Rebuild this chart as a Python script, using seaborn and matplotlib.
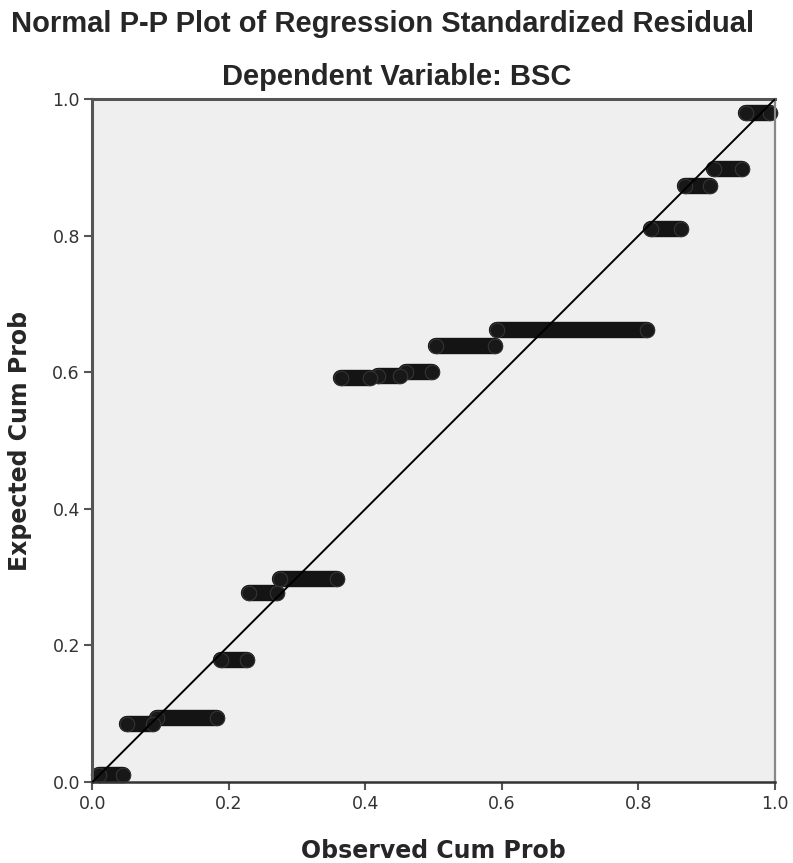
import numpy as np
import pandas as pd
import matplotlib
matplotlib.use('Agg')
import matplotlib.pyplot as plt
import seaborn as sns

# --- data: runs of tied residuals (expected cum prob constant, observed from..to) ---
expected_cum = [0.010, 0.085, 0.094, 0.179, 0.277, 0.297, 0.592, 0.594, 0.600,
                0.638, 0.662, 0.810, 0.873, 0.897, 0.980]
observed_start = [0.010, 0.050, 0.095, 0.188, 0.230, 0.275, 0.364, 0.418, 0.460,
                  0.503, 0.593, 0.818, 0.868, 0.911, 0.957]
observed_end = [0.045, 0.088, 0.182, 0.226, 0.270, 0.359, 0.406, 0.450, 0.497,
                0.590, 0.813, 0.862, 0.905, 0.951, 0.993]

ref_x = [0.0, 1.0]
ref_y = [0.0, 1.0]
tick_vals = [0.0, 0.2, 0.4, 0.6, 0.8, 1.0]
tick_labels = ['0.0', '0.2', '0.4', '0.6', '0.8', '1.0']

df = pd.DataFrame({'Expected': expected_cum, 'Start': observed_start, 'End': observed_end})
ends = pd.concat([
    df[['Start', 'Expected']].rename(columns={'Start': 'Observed'}),
    df[['End', 'Expected']].rename(columns={'End': 'Observed'}),
])

# --- style ---
sns.set_style('ticks', {'axes.facecolor': '#efefef', 'axes.edgecolor': '#555555'})
plt.rcParams['font.family'] = ['DejaVu Sans']

fig = plt.figure(figsize=(7.93, 8.63), dpi=100)
ax = fig.add_axes([0.1166, 0.0938, 0.8607, 0.7914])

# reference diagonal
sns.lineplot(x=ref_x, y=ref_y, color='black', linewidth=1.4, ax=ax, zorder=3)

# tied runs drawn as thick rounded bars + circle caps
ax.hlines(df['Expected'], df['Start'], df['End'], colors='#141414',
          linewidth=11.8, capstyle='round', zorder=2, clip_on=False)
sns.scatterplot(data=ends, x='Observed', y='Expected', s=110, color='#181818',
                edgecolor='#383838', linewidth=0.7, ax=ax, zorder=2.5,
                legend=False, clip_on=False)

ax.set_xlim(0, 1)
ax.set_ylim(0, 1)
ax.set_xticks(tick_vals)
ax.set_xticklabels(tick_labels)
ax.set_yticks(tick_vals)
ax.set_yticklabels(tick_labels)
ax.tick_params(axis='both', length=6, width=1.5, color='#555555',
               labelsize=12.5, labelcolor='#333333', pad=3)

for side in ['left', 'top']:
    ax.spines[side].set_linewidth(2.2)
    ax.spines[side].set_color('#555555')
ax.spines['bottom'].set_linewidth(1.8)
ax.spines['bottom'].set_color('#333333')
ax.spines['right'].set_linewidth(1.6)
ax.spines['right'].set_color('#888888')

ax.set_xlabel('Observed Cum Prob', fontsize=17, fontweight='bold', labelpad=19)
ax.set_ylabel('Expected Cum Prob', fontsize=17, fontweight='bold', labelpad=15)

fig.text(0.482, 0.972, 'Normal P-P Plot of Regression Standardized Residual',
         ha='center', va='center', fontsize=21, fontweight='bold',
         family=['Liberation Sans'])
fig.text(0.500, 0.911, 'Dependent Variable: BSC', ha='center', va='center',
         fontsize=21, fontweight='bold', family=['Liberation Sans'])

plt.savefig('out.png', dpi=100)
